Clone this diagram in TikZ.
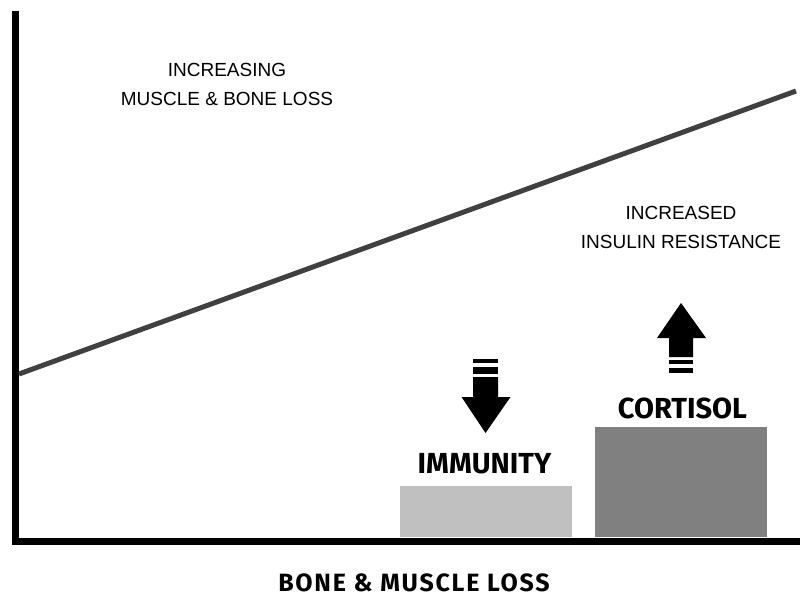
\documentclass[tikz,border=0pt]{standalone}
\usepackage{fontspec}
\setmainfont{Liberation Sans}
\newfontfamily\labelfont{Fira Sans}
\usetikzlibrary{positioning}
\definecolor{barlight}{HTML}{C0C0C0}
\definecolor{bardark}{HTML}{808080}
\definecolor{trendgray}{HTML}{404040}
\tikzset{
  hbnote/.style={align=center, font=\fontsize{19}{29}\selectfont, inner sep=0pt},
  hbtitle/.style={font=\labelfont\bfseries\fontsize{29}{29}\selectfont, inner sep=0pt,
    anchor=base, text depth=0pt},
  hbbar/.style={draw=none, inner sep=0pt, minimum width=172pt, anchor=south west},
  hbaxis/.style={line width=7.5pt, draw=black},
  hbtrend/.style={line width=5pt, draw=trendgray, line cap=butt},
  hbarrow/.style={fill=black, draw=none}
}

\begin{document}
\begin{tikzpicture}[x=1pt, y=-1pt]
  \useasboundingbox (0,0) rectangle (800,596);
  % bars
  \node[hbbar, fill=barlight, minimum height=51pt] (immbar) at (400,537) {};
  \node[hbbar, fill=bardark, minimum height=110pt] (cortbar) at (595,537) {};
  % axes
  \coordinate (ytop) at (15.5,11);
  \coordinate (origin) at (15.5,541.5);
  \coordinate (xend) at (800,541.5);
  \draw[hbaxis] (ytop) -- (origin |- 0,545.25) (origin) ++(-3.75,0) -- (xend);
  % trend line
  \coordinate (trendstart) at (19,374);
  \coordinate (trendend) at (796,91);
  \draw[hbtrend] (trendstart) -- (trendend);
  % notes
  \node[hbnote] (bonenote) at (227,84) {INCREASING\\MUSCLE \& BONE LOSS};
  \node[hbnote] (insulinnote) at (681,227) {INCREASED\\INSULIN RESISTANCE};
  % labels
  \node[hbtitle] (immlabel) at (484.5,473) {IMMUNITY};
  \node[hbtitle] (cortlabel) at (682.5,418) {CORTISOL};
  \node[hbtitle, font=\labelfont\bfseries\fontsize{25}{25}\selectfont\addfontfeature{LetterSpace=7}]
    (xlabel) at (414,591) {BONE \& MUSCLE LOSS};
  % down arrow
  \fill[hbarrow] (473,359) rectangle (498,363);
  \fill[hbarrow] (473,367) rectangle (498,374);
  \fill[hbarrow] (473,377) -- (498,377) -- (498,397) -- (510.5,397) -- (485.5,433)
    -- (461.5,397) -- (473,397) -- cycle;
  % up arrow
  \fill[hbarrow] (669,360) rectangle (693,364);
  \fill[hbarrow] (669,368) rectangle (693,373);
  \fill[hbarrow] (669,357) -- (693,357) -- (693,338) -- (706,338) -- (681,303)
    -- (657,338) -- (669,338) -- cycle;
\end{tikzpicture}
\end{document}
